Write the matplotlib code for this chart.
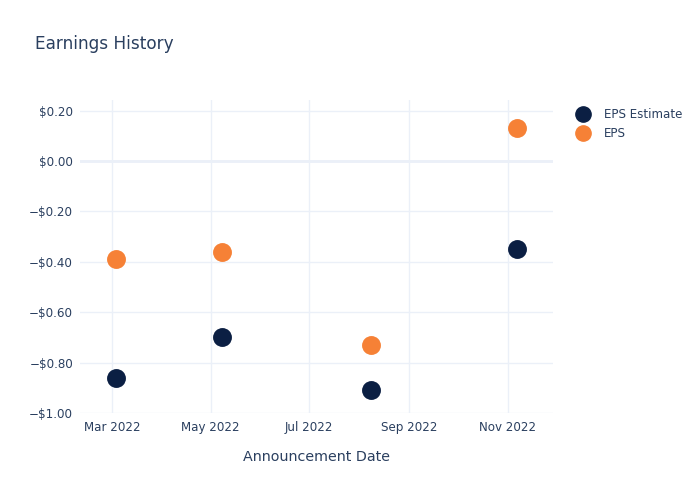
import matplotlib
matplotlib.use("Agg")
import matplotlib.pyplot as plt
import matplotlib.dates as mdates
from matplotlib.ticker import FuncFormatter, MultipleLocator
from matplotlib.lines import Line2D
import datetime as dt

dates = ["2022-03-03", "2022-05-08", "2022-08-08", "2022-11-07"]
eps_estimate = [-0.86, -0.70, -0.91, -0.35]
eps_actual = [-0.39, -0.36, -0.73, 0.13]
tick_dates = ["2022-03-01", "2022-05-01", "2022-07-01", "2022-09-01", "2022-11-01"]
tick_labels = ["Mar 2022", "May 2022", "Jul 2022", "Sep 2022", "Nov 2022"]

NAVY = "#0b1f43"
ORANGE = "#f68136"
TXT = "#2a3f5f"
GRID = "#ebf0f8"

x = [dt.datetime.strptime(d, "%Y-%m-%d") for d in dates]
xt = [dt.datetime.strptime(d, "%Y-%m-%d") for d in tick_dates]

fig = plt.figure(figsize=(7, 5), dpi=100)
ax = fig.add_axes([80/700, 1-413/500, (553-80)/700, (413-100)/500])

ax.scatter(x, eps_estimate, s=185, color=NAVY, zorder=3, linewidths=0)
ax.scatter(x, eps_actual, s=185, color=ORANGE, zorder=3, linewidths=0)

ax.set_xlim(dt.datetime(2022, 2, 9), dt.datetime(2022, 11, 29))
ax.set_ylim(-1.0, 0.242)
ax.yaxis.set_major_locator(MultipleLocator(0.2))

def fmt(v, pos):
    v = round(v, 2)
    if v < 0:
        return "\u2212$%.2f" % (-v)
    return "$%.2f" % v
ax.yaxis.set_major_formatter(FuncFormatter(fmt))
ax.set_xticks(xt)
ax.set_xticklabels(tick_labels)

for s in ax.spines.values():
    s.set_visible(False)
ax.grid(True, color=GRID, linewidth=1, zorder=0)
ax.axhline(0, color=GRID, linewidth=2, zorder=1)
ax.tick_params(axis="both", length=0, labelsize=8.6, colors=TXT, pad=6)
ax.tick_params(axis="y", pad=5)
ax.set_xlabel("Announcement Date", fontsize=10.3, color=TXT, labelpad=11)

fig.text(35/700, 1-44/500, "Earnings History", fontsize=12.2, color=TXT, va="center", ha="left")

handles = [Line2D([], [], marker="o", linestyle="", markersize=11, color=NAVY, label="EPS Estimate"),
           Line2D([], [], marker="o", linestyle="", markersize=11, color=ORANGE, label="EPS")]
leg = fig.legend(handles=handles, loc="upper left", bbox_to_anchor=(574/700, 1-108/500),
                 frameon=False, fontsize=8.6, handletextpad=1.0, labelspacing=0.5,
                 handlelength=1.5, borderaxespad=0, borderpad=0)
for t in leg.get_texts():
    t.set_color(TXT)

fig.savefig("out.png", dpi=100, facecolor="white")
